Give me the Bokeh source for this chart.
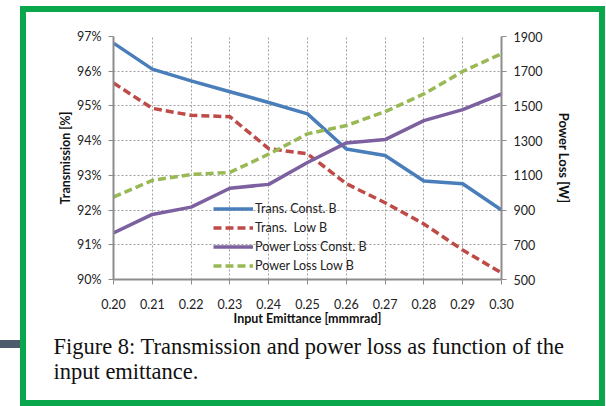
from bokeh.plotting import figure
from bokeh.models import (Range1d, LinearAxis, FixedTicker, PrintfTickFormatter,
                          Legend, LegendItem, Title, InlineStyleSheet)
from bokeh.embed import file_html
from bokeh.resources import INLINE

# ---- data ----
emittance = [0.20, 0.21, 0.22, 0.23, 0.24, 0.25, 0.26, 0.27, 0.28, 0.29, 0.30]
trans_const_b = [96.81, 96.06, 95.72, 95.41, 95.10, 94.77, 93.76, 93.57, 92.84, 92.76, 92.00]
trans_low_b = [95.66, 94.93, 94.73, 94.69, 93.77, 93.62, 92.76, 92.21, 91.60, 90.85, 90.19]
ploss_const_b = [768, 875, 917, 1026, 1048, 1174, 1287, 1306, 1415, 1479, 1569]
ploss_low_b = [975, 1071, 1105, 1117, 1222, 1339, 1387, 1467, 1569, 1699, 1801]

x_ticks = [0.20, 0.21, 0.22, 0.23, 0.24, 0.25, 0.26, 0.27, 0.28, 0.29, 0.30]
left_ticks = [90, 91, 92, 93, 94, 95, 96, 97]
right_ticks = [500, 700, 900, 1100, 1300, 1500, 1700, 1900]

series_names = ["Trans. Const. B", "Trans.  Low B", "Power Loss Const. B", "Power Loss Low B"]
caption_lines = ["Figure 8: Transmission and power loss as function of the",
                 "input emittance."]

FONT = "Lato"
C_BLUE, C_RED, C_PURPLE, C_GREEN = "#4a7ebb", "#be4b48", "#7d60a0", "#98b954"

p = figure(width=606, height=406, output_backend="svg", toolbar_location=None,
           x_range=Range1d(0.20, 0.30), y_range=Range1d(90, 97),
           min_border_left=113, min_border_right=105, min_border_top=36,
           min_border_bottom=127)
p.extra_y_ranges = {"pl": Range1d(500, 1900)}
p.outline_line_color = None
p.background_fill_color = "white"
p.border_fill_color = "white"

# grids
p.xgrid.ticker = FixedTicker(ticks=x_ticks)
p.ygrid.ticker = FixedTicker(ticks=left_ticks)
for g in (p.xgrid, p.ygrid):
    g.grid_line_color = "#a0a0a0"
    g.grid_line_dash = "2 2"
    g.grid_line_width = 1

def style_axis(ax):
    ax.axis_line_color = "#8c8c8c"
    ax.axis_line_width = 2
    ax.major_tick_line_color = "#8c8c8c"
    ax.major_tick_out = 5
    ax.major_tick_in = 0
    ax.minor_tick_line_color = None
    ax.major_label_text_font = FONT
    ax.major_label_text_font_size = "12.5px"
    ax.major_label_text_color = "#222222"
    ax.axis_label_text_font = FONT
    ax.axis_label_text_font_style = "bold"
    ax.axis_label_text_font_size = "12.5px"
    ax.axis_label_text_color = "#111111"

xa = p.xaxis[0]
xa.ticker = FixedTicker(ticks=x_ticks)
xa.formatter = PrintfTickFormatter(format="%.2f")
xa.axis_label = "Input Emittance [mmmrad]"
style_axis(xa)
xa.major_label_standoff = 14
xa.axis_label_standoff = -1

ya = p.yaxis[0]
ya.ticker = FixedTicker(ticks=left_ticks)
ya.formatter = PrintfTickFormatter(format="%d%%")
ya.axis_label = "Transmission [%]"
style_axis(ya)
ya.major_label_standoff = 7
ya.axis_label_standoff = 1

ra = LinearAxis(y_range_name="pl", ticker=FixedTicker(ticks=right_ticks),
                axis_label="Power Loss [W]")
style_axis(ra)
ra.major_label_standoff = 7
ra.axis_label_standoff = 11
ra.axis_label_text_font_size = "13px"
p.add_layout(ra, "right")

r1 = p.line(emittance, trans_const_b, line_color=C_BLUE, line_width=3.5)
r2 = p.line(emittance, trans_low_b, line_color=C_RED, line_width=3.5, line_dash="8 4")
r3 = p.line(emittance, ploss_const_b, line_color=C_PURPLE, line_width=3.5, y_range_name="pl")
r4 = p.line(emittance, ploss_low_b, line_color=C_GREEN, line_width=3.5, line_dash="8 4",
            y_range_name="pl")

legend = Legend(items=[LegendItem(label=series_names[0], renderers=[r1]),
                       LegendItem(label=series_names[1], renderers=[r2]),
                       LegendItem(label=series_names[2], renderers=[r3]),
                       LegendItem(label=series_names[3], renderers=[r4])],
                location=(100, 4))
legend.background_fill_alpha = 0
legend.border_line_color = None
legend.glyph_width = 40
legend.glyph_height = 19
legend.label_height = 19
legend.spacing = 0
legend.padding = 0
legend.margin = 0
legend.label_standoff = 2
legend.label_text_font = FONT
legend.label_text_font_size = "12.5px"
legend.label_text_color = "#222222"
p.add_layout(legend, "center")

# caption as two titles below the x axis
for line, so in zip(caption_lines, [6, -10]):
    p.add_layout(Title(text=line, align="left", offset=-60, standoff=so,
                       text_font="Liberation Serif", text_font_size="22.5px",
                       text_font_style="normal", text_color="#111111"), "below")

# green frame and dark bar drawn with CSS (decoration only)
css = """
:host { position: relative; }
:host::after { content: ""; position: absolute; left: 20px; top: 6px; width: 585px;
  height: 400px; box-sizing: border-box; border: 6.5px solid #0aa64b;
  pointer-events: none; z-index: 10; }
:host::before { content: ""; position: absolute; left: 0px; top: 340px; width: 20px;
  height: 7.5px; background: #4d5b6b; z-index: 10; }
"""
p.stylesheets = [InlineStyleSheet(css=css)]

open("out.html", "w").write(file_html(p, INLINE))
